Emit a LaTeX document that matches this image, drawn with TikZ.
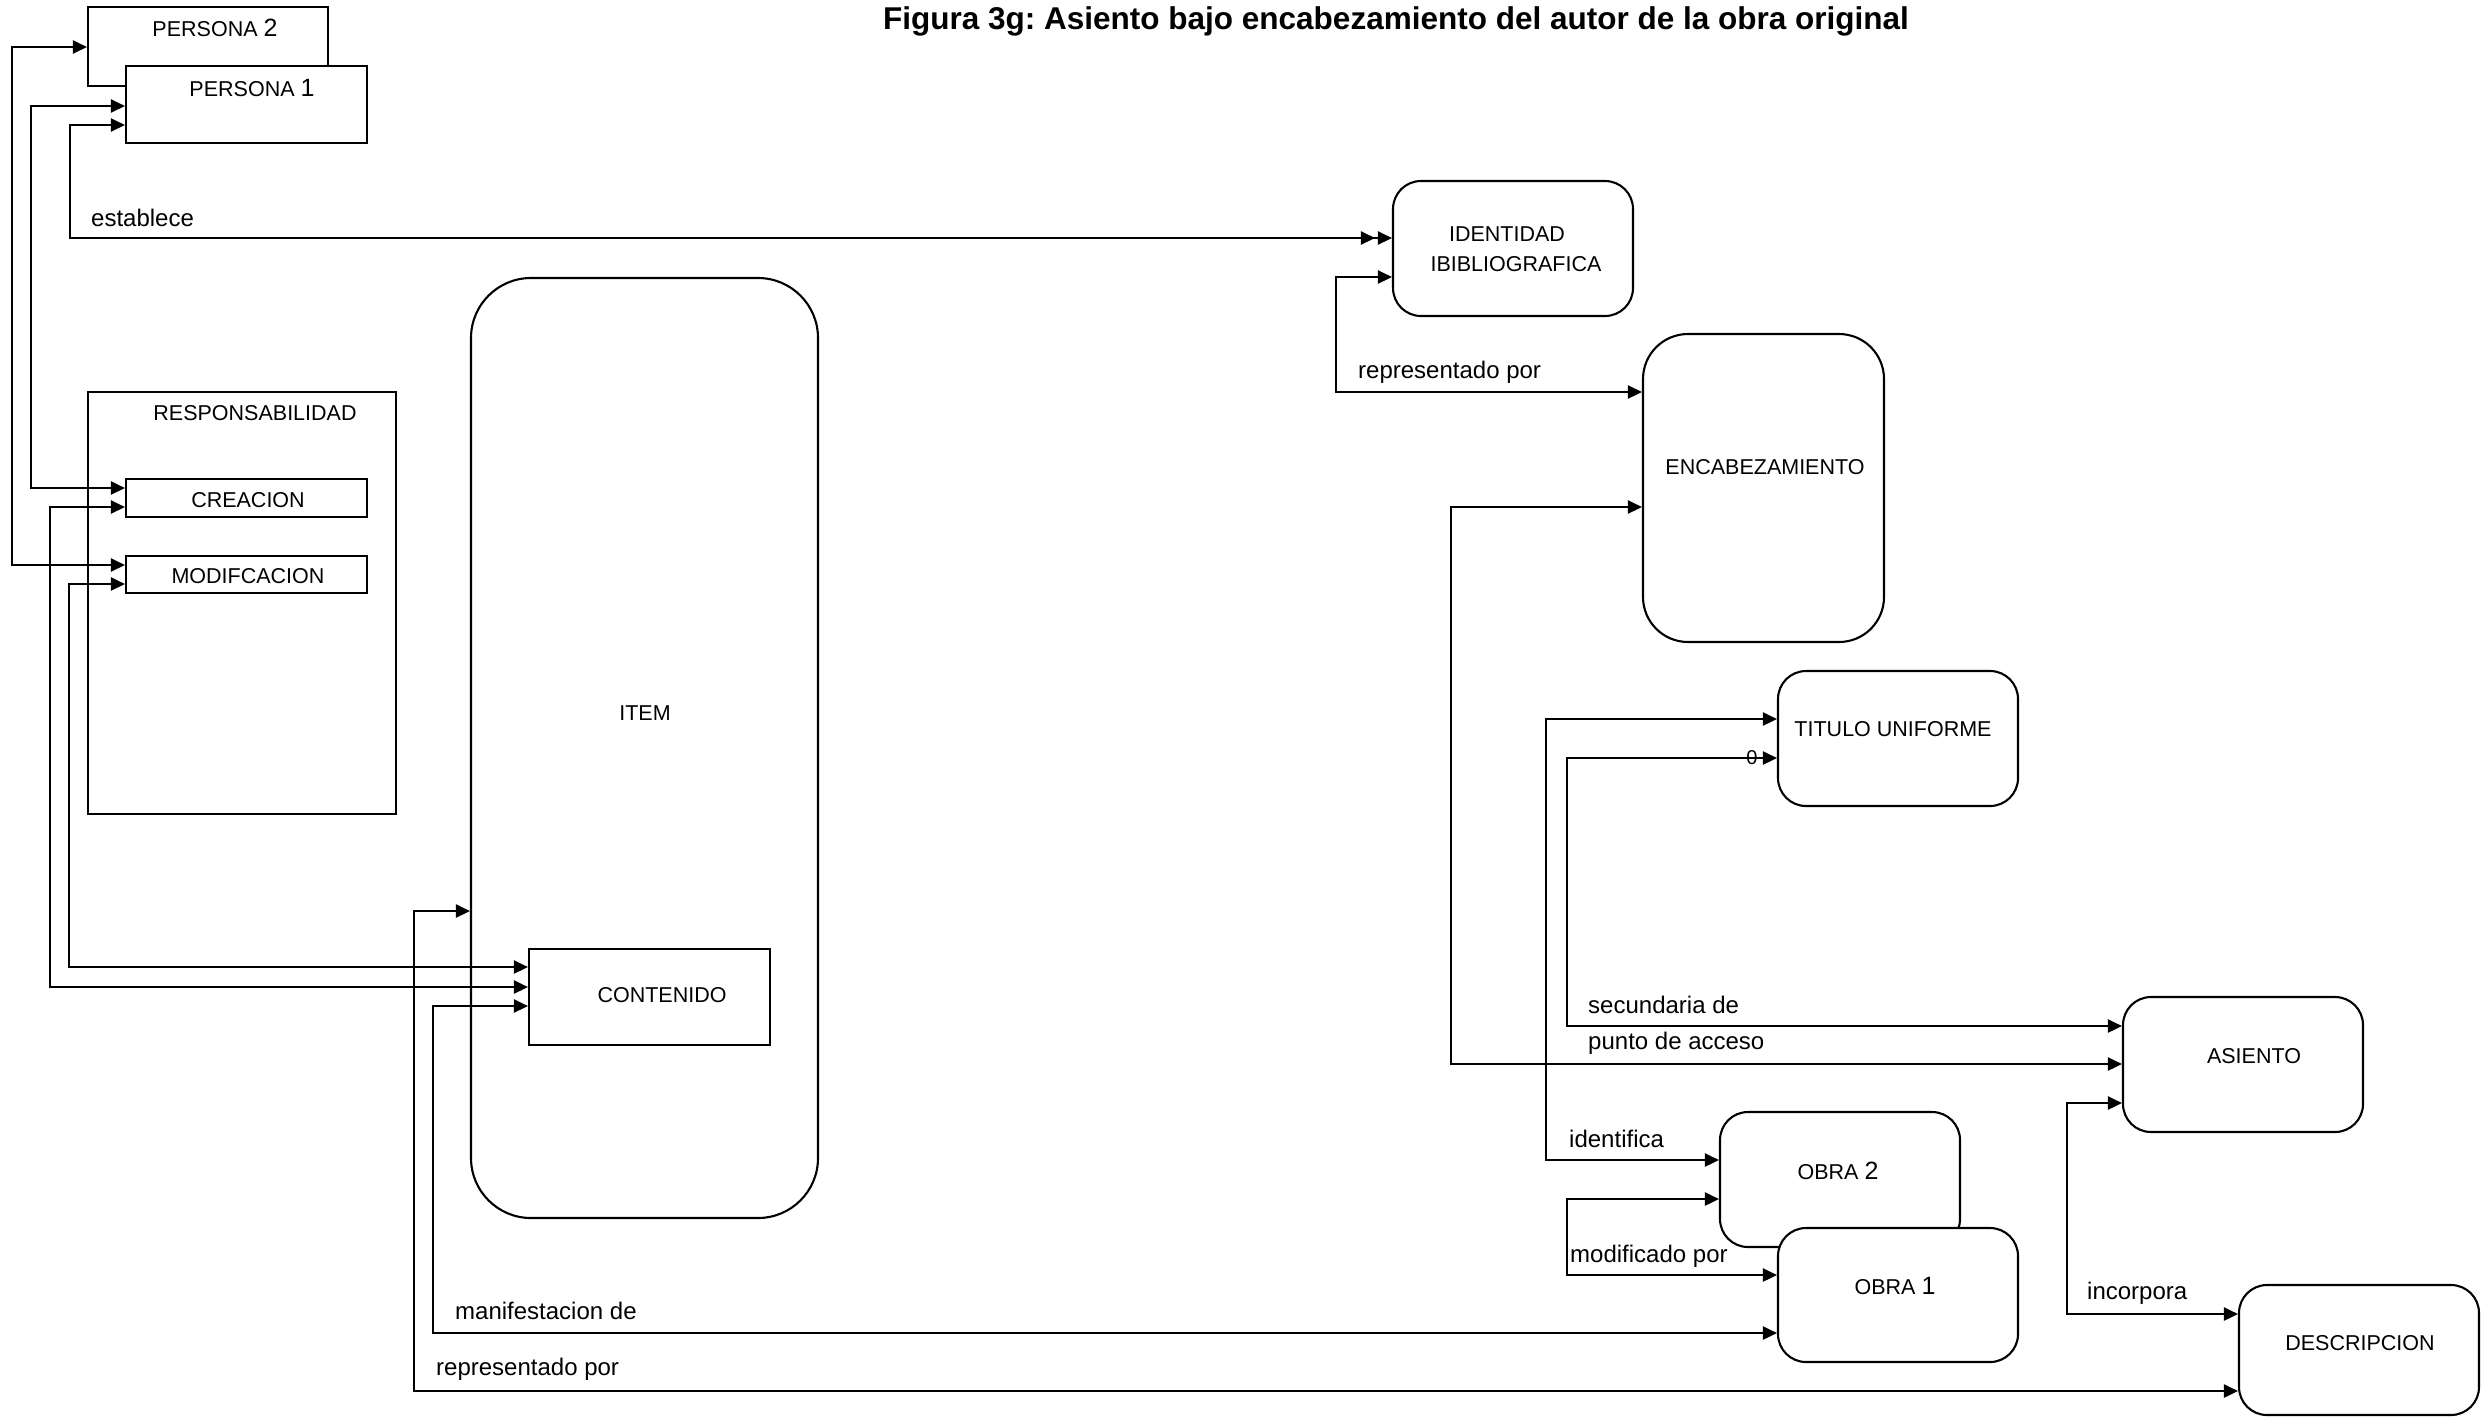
\documentclass[tikz,border=0pt]{standalone}
\usepackage{fontspec}
\setmainfont{Liberation Sans}
\usetikzlibrary{arrows.meta}
\frenchspacing

\tikzset{
  box/.style={draw, line width=2.1pt, fill=white, inner sep=0pt},
  rbox/.style={box, rounded corners=28pt},
  txt/.style={inner sep=0pt, font=\fontsize{21.5}{24}\selectfont},
  lbl/.style={anchor=west, inner sep=0pt, font=\fontsize{24}{27}\selectfont},
  link/.style={line width=2.4pt,
    arrows={Triangle[length=14pt,width=13pt]-Triangle[length=14pt,width=13pt]}},
  dlink/.style={line width=2.4pt,
    arrows={Triangle[length=14pt,width=13pt]-Triangle[length=14pt,width=13pt,sep=3pt]Triangle[length=14pt,width=13pt]}}
}
\newcommand{\numword}[2]{{\fontsize{21.5}{24}\selectfont #1 }{\fontsize{25}{28}\selectfont #2}}

\begin{document}
\begin{tikzpicture}[x=1pt,y=-1pt]
\useasboundingbox (0,0) rectangle (2489,1417);

% title
\node[inner sep=0pt, font=\bfseries\fontsize{31.5}{35}\selectfont] (title) at (1396,21)
  {Figura 3g: Asiento bajo encabezamiento del autor de la obra original};

% persons
\node[box, minimum width=240pt, minimum height=79pt] (persona2) at (208,46.5) {};
\node[txt] (persona2t) at (215,28) {\numword{PERSONA}{2}};
\node[box, minimum width=241pt, minimum height=77pt] (persona1) at (246.5,104.5) {};
\node[txt] (persona1t) at (252,88) {\numword{PERSONA}{1}};

% responsibility group
\node[box, minimum width=308pt, minimum height=422pt] (resp) at (242,603) {};
\node[txt] (respt) at (255,413) {RESPONSABILIDAD};
\node[box, minimum width=241pt, minimum height=38pt] (creacion) at (246.5,498) {};
\node[txt] (creaciont) at (248,500) {CREACION};
\node[box, minimum width=241pt, minimum height=37pt] (modif) at (246.5,574.5) {};
\node[txt] (modift) at (248,576) {MODIFCACION};

% item and content
\node[box, rounded corners=60pt, minimum width=347pt, minimum height=940pt] (item) at (644.5,748) {};
\node[txt] (itemt) at (645,713) {ITEM};
\node[box, minimum width=241pt, minimum height=96pt] (contenido) at (649.5,997) {};
\node[txt] (contenidot) at (662,995) {CONTENIDO};

% right-hand entities
\node[rbox, minimum width=240pt, minimum height=135pt] (ident) at (1513,248.5) {};
\node[txt, align=center] (identt) at (1507,249) {IDENTIDAD\\[6pt]\hspace*{18pt}IBIBLIOGRAFICA};
\node[box, rounded corners=45pt, minimum width=241pt, minimum height=308pt] (encab) at (1763.5,488) {};
\node[txt] (encabt) at (1765,467) {ENCABEZAMIENTO};
\node[rbox, minimum width=240pt, minimum height=135pt] (titulo) at (1898,738.5) {};
\node[txt] (titulot) at (1893,729) {TITULO UNIFORME};
\node[rbox, minimum width=240pt, minimum height=135pt] (asiento) at (2243,1064.5) {};
\node[txt] (asientot) at (2254,1056) {ASIENTO};
\node[rbox, minimum width=240pt, minimum height=135pt] (obra2) at (1840,1179.5) {};
\node[txt] (obra2t) at (1838,1171) {\numword{OBRA}{2}};
\node[rbox, minimum width=240pt, minimum height=134pt] (obra1) at (1898,1295) {};
\node[txt] (obra1t) at (1895,1286) {\numword{OBRA}{1}};
\node[rbox, minimum width=240pt, minimum height=130pt] (descr) at (2359,1350) {};
\node[txt] (descrt) at (2360,1343) {DESCRIPCION};

% connectors on the left
\draw[link] (persona2.west |- 0,47) -| (12,565) -- (modif.west |- 0,565);
\draw[link] (persona1.west |- 0,106) -| (31,488) -- (creacion.west |- 0,488);
\draw[dlink] (persona1.west |- 0,125) -| (70,238) -- (ident.west |- 0,238);
\node[lbl] (establece) at (91,218) {establece};
\draw[link] (creacion.west |- 0,507) -| (50,987) -- (contenido.west |- 0,987);
\draw[link] (modif.west |- 0,584) -| (69,967) -- (contenido.west |- 0,967);

% connectors from item and content
\draw[link] (item.west |- 0,911) -| (414,1391) -- (descr.west |- 0,1391);
\node[lbl] (reprpor2) at (436,1369) {representado por};
\draw[link] (contenido.west |- 0,1006) -| (433,1333) -- (obra1.west |- 0,1333);
\node[lbl] (manifest) at (455,1311) {manifestacion de};

% connectors on the right
\draw[link] (ident.west |- 0,277) -| (1336,392) -- (encab.west |- 0,392);
\node[lbl] (reprpor1) at (1358,372) {representado por};
\draw[link] (encab.west |- 0,507) -| (1451,1064) -- (asiento.west |- 0,1064);
\node[lbl] (punto) at (1588,1043) {punto de acceso};
\draw[link] (titulo.west |- 0,719) -| (1546,1160) -- (obra2.west |- 0,1160);
\node[lbl] (identifica) at (1569,1139) {identifica};
\draw[link] (titulo.west |- 0,758) -| (1567,1026) -- (asiento.west |- 0,1026);
\node[lbl] (secund) at (1588,1005) {secundaria de};
\node[inner sep=0pt, font=\fontsize{20}{22}\selectfont] (zero) at (1752,758) {0};
\draw[link] (obra2.west |- 0,1199) -| (1567,1275) -- (obra1.west |- 0,1275);
\node[lbl] (modpor) at (1570,1256) {modificado por};
\draw[link] (asiento.west |- 0,1103) -| (2067,1314) -- (descr.west |- 0,1314);
\node[lbl] (incorpora) at (2087,1293) {incorpora};
\end{tikzpicture}
\end{document}
